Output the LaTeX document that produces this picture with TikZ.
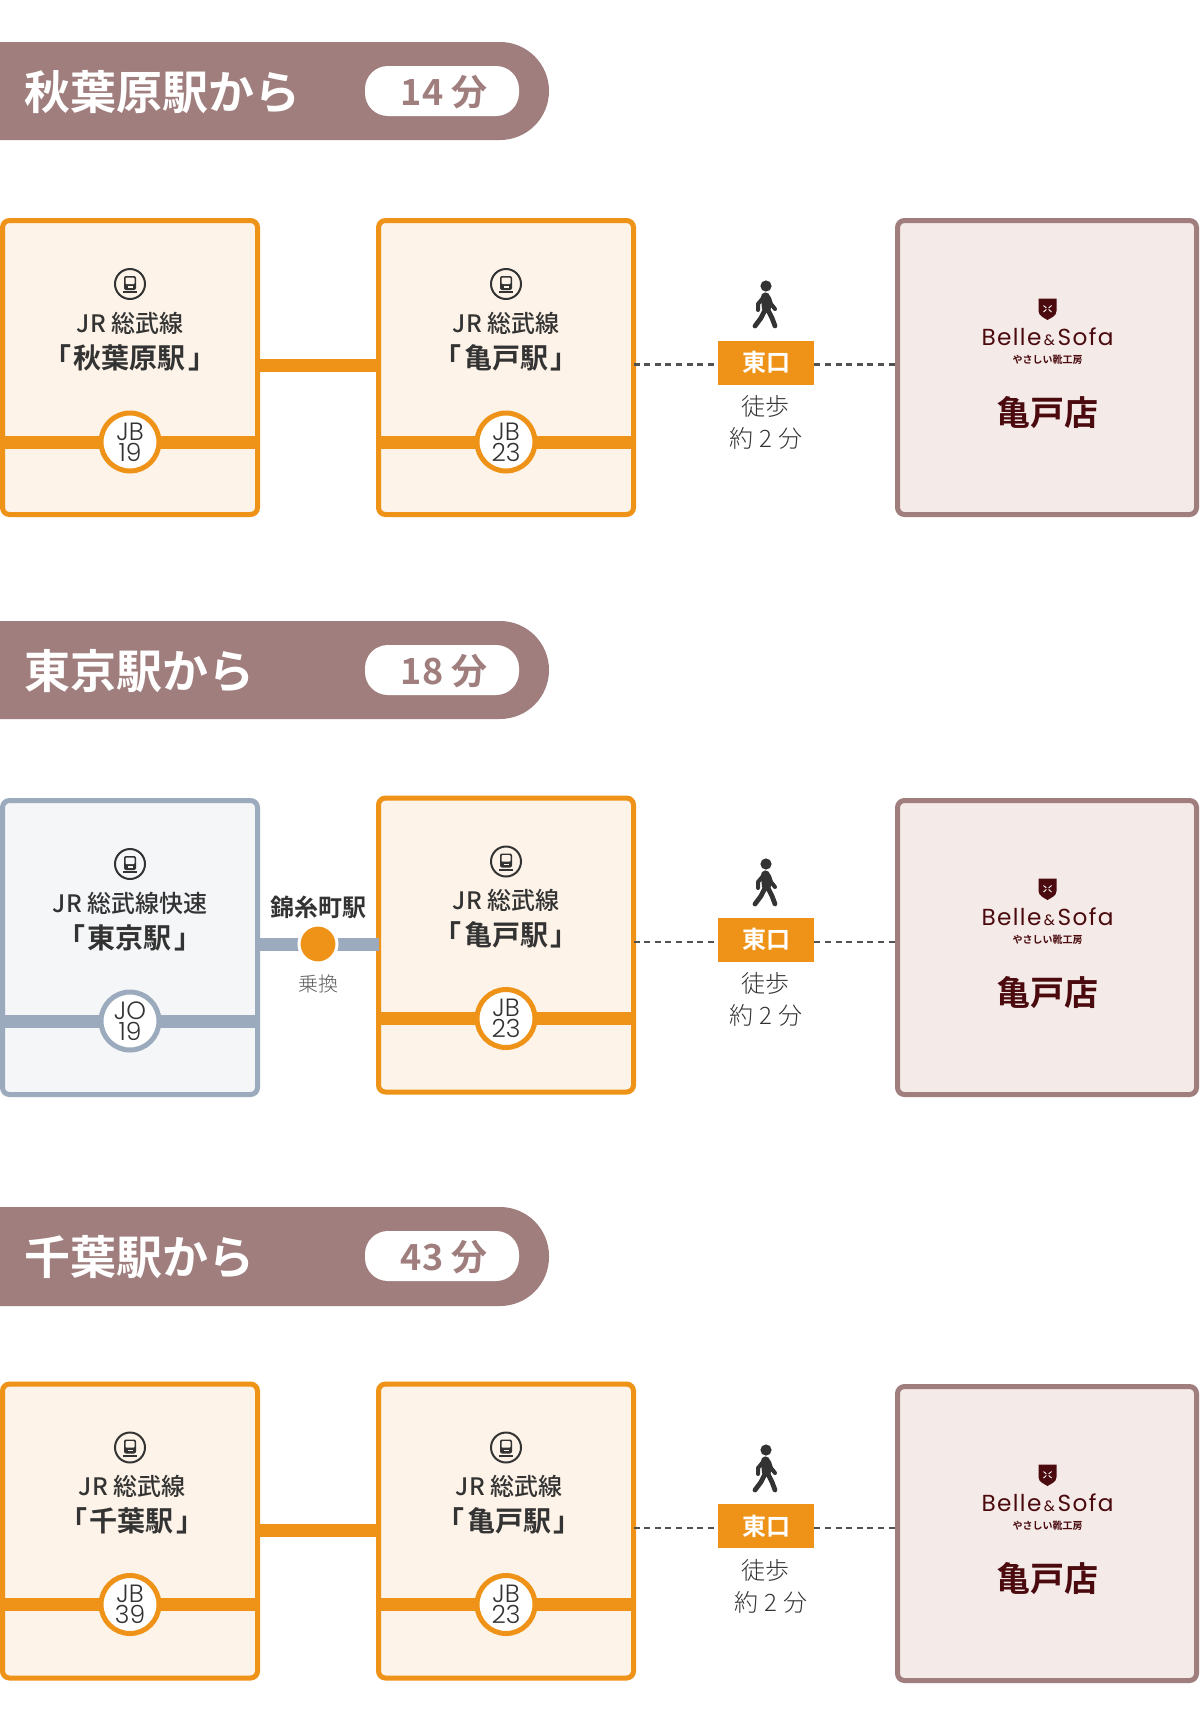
\documentclass[tikz,border=0pt]{standalone}
\usepackage{fontspec}
\setmainfont{Noto Sans CJK JP}
\newfontfamily\cjkm{Noto Sans CJK JP Medium}
\newfontfamily\cjkb{Noto Sans CJK JP Bold}
\newfontfamily\cjkl{Noto Sans CJK JP Light}
\newfontfamily\numf{Poppins Light}
\newfontfamily\logof[LetterSpace=6]{Poppins}
\definecolor{org}{HTML}{EE9318}
\definecolor{orgbg}{HTML}{FDF3E8}
\definecolor{blu}{HTML}{9BABBD}
\definecolor{blubg}{HTML}{F4F6F8}
\definecolor{mau}{HTML}{A07E7E}
\definecolor{maubg}{HTML}{F4EAE8}
\definecolor{ink}{HTML}{333333}
\definecolor{brn}{HTML}{4A0A0E}
\newcommand{\fz}[1]{\fontsize{#1}{#1}\selectfont}
\newcommand{\sta}[1]{\mbox{「\hspace{1.5pt}#1\hspace{1.5pt}」}}
\newcommand{\yaku}{約\hspace{.5pt} 2 \hspace{.5pt}分}
\tikzset{
  x=0.5pt,y=-0.5pt,
  boxbase/.style={rounded corners=3.5pt,line width=2.5pt,minimum height=147pt,inner sep=0pt,outer sep=0pt},
  stationbox/.style={boxbase,minimum width=127.5pt},
  shopbox/.style={boxbase,minimum width=149.5pt,draw=mau,fill=maubg},
  linebar/.style={line width=6.5pt},
  numcircle/.style={circle,fill=white,line width=2.5pt,minimum size=29pt,inner sep=0pt,text=ink,align=center,font=\numf\fontsize{12.5}{10.5}\selectfont},
  linetxt/.style={inner sep=0pt,text=ink,font=\cjkm\fz{12}},
  statxt/.style={inner sep=0pt,text=ink,font=\cjkb\fz{14}},
  title/.style={inner sep=0pt,text=white,font=\cjkb\fz{23},anchor=west},
  mins/.style={inner sep=0pt,text=mau,font=\cjkb\fz{18},anchor=east},
  pill/.style={fill=white,rounded corners=11.5pt,minimum width=77pt,minimum height=25pt,inner sep=0pt},
  badge/.style={fill=org,text=white,font=\cjkb\fz{12},minimum width=48pt,minimum height=22pt,inner sep=0pt},
  walktxt/.style={inner sep=0pt,text=ink,font=\cjkl\fz{12}},
  dashline/.style={line width=1.1pt,draw=ink!85,dash pattern=on 3pt off 2.3pt},
  logotxt/.style={inner sep=0pt,text=brn,font=\logof\fz{11.6}},
  subtxt/.style={inner sep=0pt,text=brn,font=\cjkb\fz{5}},
  shoptxt/.style={inner sep=0pt,text=brn,font=\cjkb\fz{17}},
}
\newcommand{\xoff}{0}
\newcommand{\loff}{224}
% id, cx, top, stroke, fill, line1, line2, n1-n2 (with \\)
\newcommand{\stn}[8]{%
  \node[stationbox,draw=#4,fill=#5,anchor=center] (#1) at (#2,#3+149.5) {};
  \coordinate (#1lv) at (#2,#3+\loff);
  \draw[linebar,#4] (#1.west |- #1lv) -- (#1.east |- #1lv);
  \node[numcircle,draw=#4] (#1c) at (#1lv) {#8};
  \begin{scope}[shift={(#2,#3+66)}]
    \draw[ink,line width=1pt] (0,0) circle (15);
    \fill[ink,rounded corners=1pt] (-6,-8) rectangle (6,6);
    \fill[#5,rounded corners=.5pt] (-4.5,-6.5) rectangle (4.5,0);
    \fill[#5] (-2.5,2.4) rectangle (2.5,3.6);
    \fill[ink] (-7,7.4) rectangle (7,9);
  \end{scope}
  \node[linetxt] (#1l1) at (\xoff+#2,#3+105) {#6};
  \node[statxt] (#1l2) at (\xoff+#2,#3+139.5) {#7};
}
% id, top
\newcommand{\shop}[2]{%
  \node[shopbox] (#1) at (1047,#2+149.5) {};
  \begin{scope}[shift={(1047.5,#2+91)}]
    \fill[brn] (-9,-10.5) -- (9,-10.5) -- (9,2) .. controls (9,7) and (3,9) .. (0,11) .. controls (-3,9) and (-9,7) .. (-9,2) -- cycle;
    \draw[white,line width=.45pt] (-4,-3.5) -- (-1.2,-1) (4,-3.5) -- (1.2,-1) (-4,3) -- (-1.2,.5) (4,3) -- (1.2,.5);
  \end{scope}
  \node[logotxt] (#1a) at (1047.5,#2+119) {Belle{\fz{7.5}\,\&\,}Sofa};
  \node[subtxt] (#1b) at (1047.5,#2+142) {やさしい靴工房};
  \node[shoptxt] (#1n) at (1047.5,#2+195) {亀戸店};
}
% id, dash y, badge y, head y, text y1, text y2, from, to, text2 x
\newcommand{\walk}[9]{%
  \coordinate (#1d) at (766,#2);
  \node[badge] (#1b) at (766,#3) {東口};
  \draw[dashline] (#7.east |- #1d) -- (#1b.west |- #1d);
  \draw[dashline] (#1b.east |- #1d) -- (#8.west |- #1d);
  \begin{scope}[shift={(766,#4)}]
    \fill[ink] (0,0) circle (5.6);
    \draw[ink,line width=4.6pt,line cap=round] (-.5,11) -- (.5,22);
    \draw[ink,line width=2pt,line cap=round,line join=round] (-3,12) -- (-8,18) -- (-8,24)  (3,12) -- (5,18) -- (9,23);
    \draw[ink,line width=2.4pt,line cap=round,line join=round] (-1,24) -- (-5,32) -- (-11,40) (2,24) -- (6,32) -- (9,40);
  \end{scope}
  \node[walktxt] (#1t) at (765.5,#5) {徒歩};
  \node[walktxt] (#1u) at (#9,#6) {\yaku};
}
% id, top, bottom, title, minutes
\newcommand{\banner}[5]{%
  \fill[mau] (0,#2) [rounded corners=24.5pt] -- (549,#2) -- (549,#3) [sharp corners] -- (0,#3) -- cycle;
  \node[pill] (#1p) at (442,#2+49) {};
  \node[title] (#1t) at (24,#2+50) {#4};
  \node[mins] (#1m) at (488,#2+50) {#5};
}
\begin{document}
\begin{tikzpicture}
\useasboundingbox (0,0) rectangle (1200,1724);
\fill[white] (0,0) rectangle (1200,1724);
% --- row 1
\banner{h1}{42}{140}{秋葉原駅から}{14 分}
\stn{a1}{130}{218}{org}{orgbg}{JR 総武線}{\sta{秋葉原駅}}{JB\\19}
\stn{b1}{506}{218}{org}{orgbg}{JR 総武線}{\sta{亀戸駅}}{JB\\23}
\shop{s1}{218}
\draw[linebar,org] ([yshift=1.25pt]a1.east) -- ([yshift=1.25pt]b1.west);
\walk{w1}{364.5}{362.5}{286}{406.5}{438}{b1}{s1}{766}
% --- row 2
\renewcommand{\loff}{223}
\banner{h2}{621}{719}{東京駅から}{18 分}
\stn{a2}{130}{798}{blu}{blubg}{JR 総武線快速}{\sta{東京駅}}{JO\\19}
\stn{b2}{506}{795.5}{org}{orgbg}{JR 総武線}{\sta{亀戸駅}}{JB\\23}
\shop{s2}{798}
\coordinate (x2) at (318,944);
\draw[linebar,blu] (a2.east |- x2) -- (b2.west |- x2);
\node[circle,fill=org,draw=white,line width=1.5pt,minimum size=19pt,inner sep=0pt] (x2c) at (x2) {};
\node[inner sep=0pt,text=ink,font=\cjkb\fz{12}] (x2a) at (318,907) {錦糸町駅};
\node[inner sep=0pt,text=ink!80,font=\cjkl\fz{10}] (x2b) at (318,984) {乗換};
\walk{w2}{942}{939.5}{864}{983}{1015}{b2}{s2}{766}
% --- row 3
\banner{h3}{1207}{1306}{千葉駅から}{43 分}
\renewcommand{\xoff}{2}
\stn{a3}{130}{1381.5}{org}{orgbg}{JR 総武線}{\sta{千葉駅}}{JB\\39}
\renewcommand{\xoff}{3}
\stn{b3}{506}{1381.5}{org}{orgbg}{JR 総武線}{\sta{亀戸駅}}{JB\\23}
\renewcommand{\xoff}{0}
\shop{s3}{1384}
\draw[linebar,org] ([yshift=.5pt]a3.east) -- ([yshift=.5pt]b3.west);
\walk{w3}{1528}{1526}{1450}{1570}{1602}{b3}{s3}{771}
\end{tikzpicture}
\end{document}
